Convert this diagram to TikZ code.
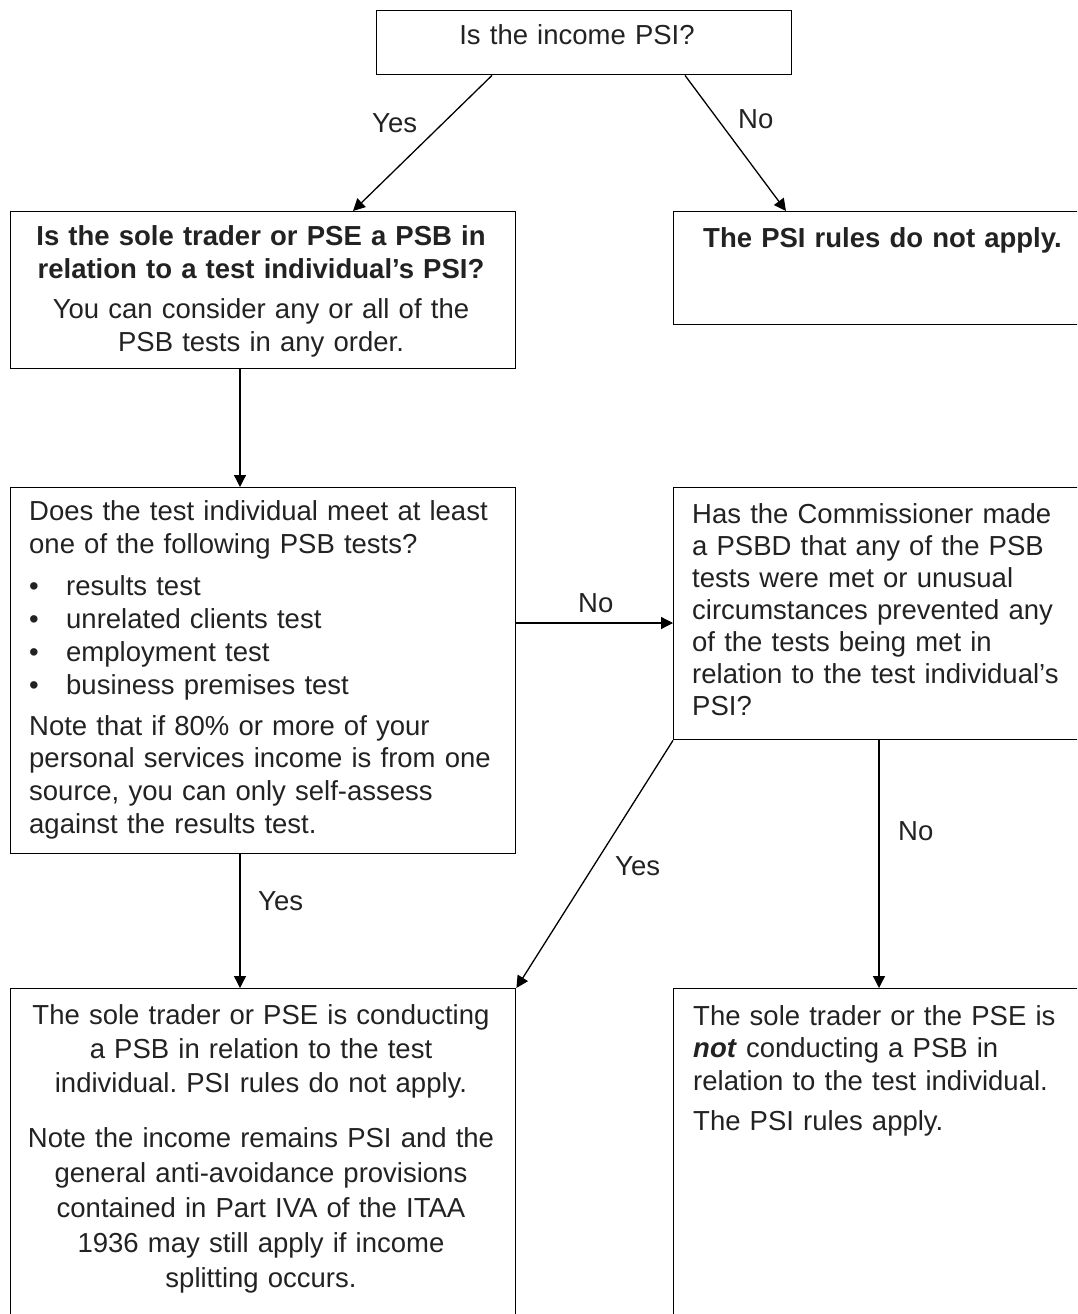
\documentclass[tikz,border=0pt]{standalone}
\usepackage{fontspec}
\setmainfont{Liberation Sans}
\usetikzlibrary{arrows.meta,calc}
\definecolor{tcol}{HTML}{222222}
\newcommand{\fz}[1]{\fontsize{27.5pt}{#1pt}\selectfont}
\frenchspacing
\begin{document}
\begin{tikzpicture}[x=1pt,y=-1pt,
  box/.style={draw=black, line width=1.4pt, inner sep=0pt, anchor=north west},
  conn/.style={draw=black, line width=1.3pt, -{Triangle[length=12pt,width=12pt]}},
  lbl/.style={inner sep=0pt, anchor=base west, text=tcol, font=\fz{33}},
  ptl/.style={inner sep=0pt, anchor=base west, text=tcol, align=left, text width=#1},
  ptc/.style={inner sep=0pt, anchor=base, text=tcol, align=center, text width=#1},
]
\useasboundingbox (0,0) rectangle (1077,1314);
\clip (0,0) rectangle (1077,1314);

% boxes
\node[box, minimum width=415pt, minimum height=64pt]  (q1) at (376,10) {};
\node[box, minimum width=505pt, minimum height=157pt] (q2) at (10,211) {};
\node[box, minimum width=420pt, minimum height=113pt] (r1) at (673,211) {};
\node[box, minimum width=505pt, minimum height=366pt] (q3) at (10,487) {};
\node[box, minimum width=420pt, minimum height=252pt] (q4) at (673,487) {};
\node[box, minimum width=505pt, minimum height=345pt] (e1) at (10,988) {};
\node[box, minimum width=420pt, minimum height=345pt] (e2) at (673,988) {};

% texts
\node[ptc=380pt, font=\fz{33}] (q1t) at (577,45) {Is the income PSI?};

\node[ptc=490pt, font=\fz{33}\bfseries] (q2a) at (261,245)
  {Is the sole trader or PSE a PSB in\\relation to a test individual’s PSI?};
\node[ptc=490pt, font=\fz{33}] (q2b) at (261,318)
  {You can consider any or all of the\\PSB tests in any order.};

\node[ptl=380pt, font=\fz{33}\bfseries] (r1t) at (703,247) {The PSI rules do not apply.};

\node[ptl=480pt, font=\fz{33}] (q3a) at (29,520)
  {Does the test individual meet at least\\one of the following PSB tests?};
\node[ptl=480pt, font=\fz{33.3}] (q3b) at (29,595)
  {\makebox[37pt][l]{•}results test\\
   \makebox[37pt][l]{•}unrelated clients test\\
   \makebox[37pt][l]{•}employment test\\
   \makebox[37pt][l]{•}business premises test};
\node[ptl=480pt, font=\fz{32.7}] (q3c) at (29,735)
  {Note that if 80\% or more of your\\personal services income is from one\\source, you can only self-assess\\against the results test.};

\node[ptl=380pt, font=\fz{32}] (q4t) at (692,523)
  {Has the Commissioner made\\a PSBD that any of the PSB\\tests were met or unusual\\circumstances prevented any\\of the tests being met in\\relation to the test individual’s\\PSI?};

\node[ptc=490pt, font=\fz{34}] (e1a) at (261,1024)
  {The sole trader or PSE is conducting\\a PSB in relation to the test\\individual. PSI rules do not apply.};
\node[ptc=490pt, font=\fz{35}] (e1b) at (261,1147)
  {Note the income remains PSI and the\\general anti-avoidance provisions\\contained in Part IVA of the ITAA\\1936 may still apply if income\\splitting occurs.};

\node[ptl=380pt, font=\fz{32.5}] (e2a) at (693,1025)
  {The sole trader or the PSE is\\\textbf{\textit{not}} conducting a PSB in\\relation to the test individual.};
\node[ptl=380pt, font=\fz{33}] (e2b) at (693,1130) {The PSI rules apply.};

% connectors
\draw[conn] ([xshift=116pt]q1.south west) -- ([xshift=343pt]q2.north west);
\draw[conn] ([xshift=309pt]q1.south west) -- ([xshift=113pt]r1.north west);
\draw[conn] ([xshift=230pt]q2.south west) -- ([xshift=230pt]q3.north west);
\draw[conn] ([yshift=-136pt]q3.north east) -- ([yshift=-136pt]q4.north west);
\draw[conn] ([xshift=230pt]q3.south west) -- ([xshift=230pt]e1.north west);
\draw[conn] (q4.south west) -- (e1.north east);
\draw[conn] ([xshift=206pt]q4.south west) -- ([xshift=206pt]e2.north west);

% labels
\node[lbl] (l1) at (372,132) {Yes};
\node[lbl] (l2) at (738,128) {No};
\node[lbl] (l3) at (578,612) {No};
\node[lbl] (l4) at (258,910) {Yes};
\node[lbl] (l5) at (615,875) {Yes};
\node[lbl] (l6) at (898,840) {No};
\end{tikzpicture}
\end{document}
